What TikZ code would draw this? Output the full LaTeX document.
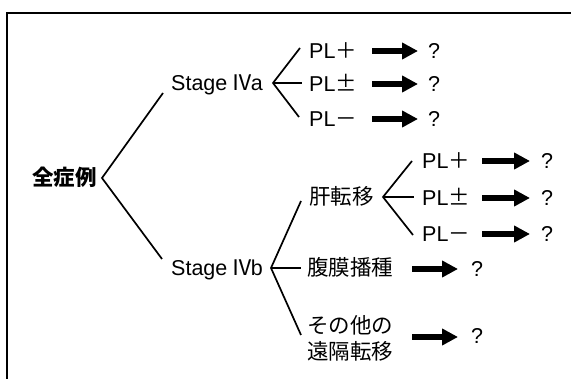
\documentclass[tikz,border=0pt]{standalone}
\usepackage{fontspec}
\setmainfont{Liberation Sans}
\newfontfamily\jp{Noto Sans CJK JP}
\usetikzlibrary{arrows.meta}
\newcommand{\fs}{\fontsize{21.5}{26}\selectfont}
\newcommand{\romfour}{\hspace{-1.5pt}{\jp Ⅳ}\hspace{-2.5pt}}
\begin{document}
\begin{tikzpicture}[x=1pt,y=-1pt,
  lbl/.style={anchor=base west, inner sep=0pt, font=\fs},
  conn/.style={line width=1.7pt},
  bigarrow/.style={line width=5.5pt, -{Triangle[length=16pt,width=16pt]}},
  frame/.style={line width=1.8pt}]
\useasboundingbox (0,0) rectangle (571,379);
\draw[frame] (571,13) -- (7,13) -- (7,379);

% texts
\node[lbl] (all) at (32,186) {\jp\bfseries 全症例};
\node[lbl] (IVa) at (171,91) {Stage \romfour a};
\node[lbl] (IVb) at (171,276) {Stage \romfour b};
\node[lbl] (a1) at (309,59) {PL{\jp ＋}};
\node[lbl] (a2) at (309,92) {PL{\jp ±}};
\node[lbl] (a3) at (309,127) {PL{\jp －}};
\node[lbl] (liver) at (309,205) {\jp 肝転移};
\node[lbl] (b1) at (422,169) {PL{\jp ＋}};
\node[lbl] (b2) at (422,206) {PL{\jp ±}};
\node[lbl] (b3) at (422,242) {PL{\jp －}};
\node[lbl] (perit) at (307,276) {\jp 腹膜播種};
\node[anchor=west, inner sep=0pt, font=\fs, align=left] (other) at (307,338) {\jp その他の\\\jp 遠隔転移};

% question marks
\node[lbl] (qa1) at (428,59) {?};
\node[lbl] (qa2) at (428,92) {?};
\node[lbl] (qa3) at (428,127) {?};
\node[lbl] (qb1) at (541,169) {?};
\node[lbl] (qb2) at (541,206) {?};
\node[lbl] (qb3) at (541,242) {?};
\node[lbl] (qp) at (471,277) {?};
\node[lbl] (qo) at (471,344) {?};

% arrow start/end coordinates
\coordinate (sa1) at (372,51); \coordinate (ea1) at (418,51);
\coordinate (sa2) at (372,84); \coordinate (ea2) at (418,84);
\coordinate (sa3) at (372,119); \coordinate (ea3) at (418,119);
\coordinate (sb1) at (482,161); \coordinate (eb1) at (530,161);
\coordinate (sb2) at (482,198); \coordinate (eb2) at (530,198);
\coordinate (sb3) at (482,234); \coordinate (eb3) at (530,234);
\coordinate (sp) at (412,269); \coordinate (ep) at (458,269);
\coordinate (so) at (412,337); \coordinate (eo) at (458,337);
\foreach \s/\e in {sa1/ea1,sa2/ea2,sa3/ea3,sb1/eb1,sb2/eb2,sb3/eb3,sp/ep,so/eo}
  \draw[bigarrow] (\s) -- (\e);

% bracket vertices and ends
\coordinate (v0) at (102,178);
\coordinate (v0u) at (163,93);
\coordinate (v0d) at (162,259);
\coordinate (vA) at (273,83);
\coordinate (vAu) at (300,48);
\coordinate (vAm) at (302,83);
\coordinate (vAd) at (299,117);
\coordinate (vB) at (271,268);
\coordinate (vBu) at (301,201);
\coordinate (vBm) at (301,268);
\coordinate (vBd) at (301,335);
\coordinate (vC) at (383,197);
\coordinate (vCu) at (412,161);
\coordinate (vCm) at (414,197);
\coordinate (vCd) at (413,235);

\draw[conn] (v0u) -- (v0) -- (v0d);
\draw[conn] (vAu) -- (vA) -- (vAd);
\draw[conn] (vA) -- (vAm);
\draw[conn] (vBu) -- (vB) -- (vBd);
\draw[conn] (vB) -- (vBm);
\draw[conn] (vCu) -- (vC) -- (vCd);
\draw[conn] (vC) -- (vCm);
\end{tikzpicture}
\end{document}
